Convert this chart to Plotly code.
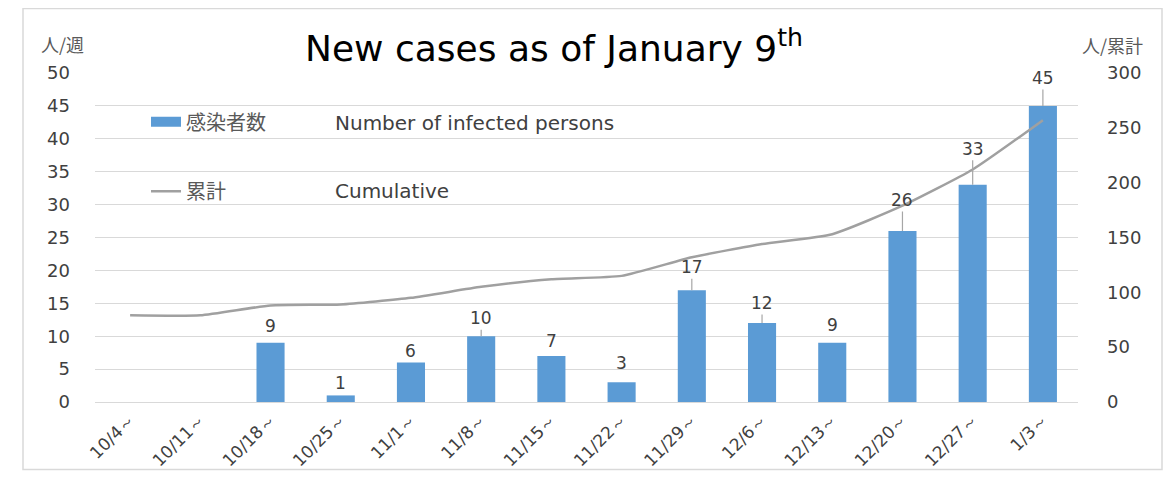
import plotly.graph_objects as go

weeks = ["10/4～", "10/11～", "10/18～", "10/25～", "11/1～", "11/8～", "11/15～",
         "11/22～", "11/29～", "12/6～", "12/13～", "12/20～", "12/27～", "1/3～"]
new_cases = [0, 0, 9, 1, 6, 10, 7, 3, 17, 12, 9, 26, 33, 45]
cumulative = [79, 79, 88, 89, 95, 105, 112, 115, 132, 144, 153, 179, 212, 257]
left_ticks = [0, 5, 10, 15, 20, 25, 30, 35, 40, 45, 50]
right_ticks = [0, 50, 100, 150, 200, 250, 300]

# label styling (pixel offset above bar top, and whether a leader line shows)
label_offsets = [0, 0, -17, -12, -12, -18, -15, -19, -23, -20, -18, -31, -36, -28]
label_leaders = [False, False, False, False, False, True, False, False, True, True, False, True, True, True]

FONT = "'DejaVu Sans', sans-serif"
CJK = "'Noto Sans CJK JP', sans-serif"
TXT = "#404040"

OFF = 8                      # page body margin
W, H = 1173 - OFF, 482 - OFF
L, T = 95 - OFF, 73 - OFF
R = W - (1078 - OFF)
B = H - (404 - OFF)
pw, ph = W - L - R, H - T - B


def px(x):   # page pixel -> paper x
    return (x - OFF - L) / pw


def py(y):   # page pixel -> paper y
    return (H - B - (y - OFF)) / ph


fig = go.Figure()
fig.add_trace(go.Bar(
    x=weeks, y=new_cases, name="感染者数",
    marker=dict(color="#5B9BD5", line=dict(width=0)),
    width=0.4, yaxis="y", showlegend=False,
))
# legend key for the bars (rectangle-like thick line, no data drawn)
fig.add_trace(go.Scatter(
    x=[None], y=[None], name="感染者数", mode="lines",
    line=dict(color="#5B9BD5", width=10), legend="legend", showlegend=True,
))
fig.add_trace(go.Scatter(
    x=weeks, y=cumulative, name="累計", mode="lines",
    line=dict(color="#A0A0A0", width=2.5, shape="spline", smoothing=0.5),
    yaxis="y2", legend="legend2",
))

annotations = []
for w, v, off, lead in zip(weeks, new_cases, label_offsets, label_leaders):
    if v == 0:
        continue
    if lead:
        annotations.append(dict(
            x=w, y=v, xref="x", yref="y", text=str(v), showarrow=True,
            ax=0, ay=off, arrowhead=0, arrowwidth=1.2, arrowcolor="#A6A6A6",
            standoff=0, font=dict(family=FONT, size=17, color=TXT),
        ))
    else:
        annotations.append(dict(
            x=w, y=v, xref="x", yref="y", text=str(v), showarrow=False,
            yshift=-off, yanchor="middle", xanchor="center",
            font=dict(family=FONT, size=17, color=TXT),
        ))

# title
annotations.append(dict(
    x=px(554), y=py(46), xref="paper", yref="paper",
    text="New cases as of January 9<sup>th</sup>", showarrow=False,
    font=dict(family=FONT, size=36, color="#000000"),
    xanchor="center", yanchor="middle",
))
# axis titles
annotations.append(dict(x=px(62), y=py(44), xref="paper", yref="paper", text="人/週",
                        xanchor="center", yanchor="middle",
                        showarrow=False, font=dict(family=CJK, size=18, color="#595959")))
annotations.append(dict(x=px(1112), y=py(45), xref="paper", yref="paper", text="人/累計",
                        xanchor="center", yanchor="middle",
                        showarrow=False, font=dict(family=CJK, size=18, color="#595959")))
# English legend texts
annotations.append(dict(x=px(333), y=py(123), xref="paper", yref="paper",
                        text="Number of infected persons", showarrow=False,
                        xanchor="left", yanchor="middle",
                        font=dict(family=FONT, size=20, color=TXT)))
annotations.append(dict(x=px(333), y=py(192), xref="paper", yref="paper",
                        text="Cumulative", showarrow=False,
                        xanchor="left", yanchor="middle",
                        font=dict(family=FONT, size=20, color=TXT)))

shapes = [
    dict(type="rect", xref="paper", yref="paper",
         x0=px(23), x1=px(1162), y0=py(472), y1=py(8),
         line=dict(color="#D9D9D9", width=1.5), layer="below"),
    # white title box masking the top gridline (as in the original chart)
    dict(type="rect", xref="paper", yref="paper",
         x0=px(270), x1=px(895), y0=py(77), y1=py(18),
         fillcolor="white", line=dict(width=0), layer="above"),
]

fig.update_layout(
    width=W, height=H,
    margin=dict(l=L, r=R, t=T, b=B),
    paper_bgcolor="white", plot_bgcolor="white",
    showlegend=True,
    legend=dict(x=px(146), y=py(122), xanchor="left", yanchor="middle",
                bgcolor="rgba(0,0,0,0)", font=dict(family=CJK, size=20, color="#595959")),
    legend2=dict(x=px(146), y=py(192), xanchor="left", yanchor="middle",
                 bgcolor="rgba(0,0,0,0)", font=dict(family=CJK, size=20, color="#595959")),
    xaxis=dict(type="category", tickangle=-45, showgrid=False, showline=True,
               linecolor="#D9D9D9", linewidth=1, ticks="",
               tickfont=dict(family=FONT, size=17, color=TXT)),
    yaxis=dict(range=[0, 50], tickvals=left_ticks, showgrid=True, gridcolor="#D9D9D9",
               gridwidth=1, zeroline=False, showline=False, ticks="",
               ticklabelstandoff=24,
               tickfont=dict(family=FONT, size=18, color=TXT)),
    yaxis2=dict(range=[0, 300], tickvals=right_ticks, overlaying="y", side="right",
                showgrid=False, zeroline=False, showline=False, ticks="",
                ticklabelstandoff=28,
                tickfont=dict(family=FONT, size=18, color=TXT)),
    annotations=annotations,
    shapes=shapes,
    bargap=0.6,
)

fig.write_html("out.html")
